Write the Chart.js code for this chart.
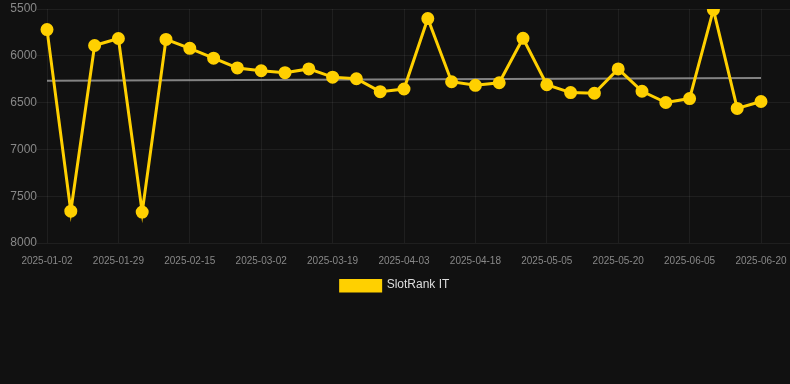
<!DOCTYPE html>
<html>
<head>
<meta charset="utf-8">
<script src="https://cdn.jsdelivr.net/npm/chart.js@4"></script>
<style>
  html, body { margin: 0; padding: 0; background: #111111; }
  #wrap { width: 790px; height: 301px; }
</style>
</head>
<body>
<div id="wrap"><canvas id="myChart"></canvas></div>
<script>
const days = ['2025-01-02', '2025-01-11', '2025-01-20', '2025-01-29', '2025-02-04', '2025-02-10',
    '2025-02-15', '2025-02-20', '2025-02-25', '2025-03-02', '2025-03-08', '2025-03-13',
    '2025-03-19', '2025-03-24', '2025-03-29', '2025-04-03', '2025-04-08', '2025-04-13',
    '2025-04-18', '2025-04-24', '2025-04-29', '2025-05-05', '2025-05-10', '2025-05-15',
    '2025-05-20', '2025-05-25', '2025-05-31', '2025-06-05', '2025-06-10', '2025-06-15',
    '2025-06-20'];
const ranks = [5720, 7660, 5890, 5815, 7670, 5825, 5920, 6025, 6130, 6160, 6180, 6140,
    6228, 6245, 6383, 6355, 5602, 6277, 6315, 6288, 5813, 6309, 6393, 6400,
    6140, 6379, 6499, 6457, 5507, 6562, 6488];
const trend = days.map(() => null);
trend[0] = 6267;
trend[trend.length - 1] = 6238;

const gridColor = 'rgba(255, 255, 255, 0.06)';
const ctx = document.getElementById('myChart').getContext('2d');
Chart.defaults.font.family = 'Arial, "Liberation Sans", sans-serif';

function fixPad(scale) {
    scale.paddingTop = 3;
    scale.paddingBottom = 0;
}

const myChart = new Chart(ctx, {
    type: 'line',
    data: {
        labels: days,
        datasets: [{
            label: 'SlotRank IT',
            data: ranks,
            borderColor: '#FFD000',
            backgroundColor: '#FFD000',
            borderWidth: 3,
            pointRadius: 5,
            pointHoverRadius: 6,
            tension: 0
        }, {
            label: 'trend',
            data: trend,
            spanGaps: true,
            borderColor: 'rgba(160, 160, 160, 0.8)',
            borderWidth: 2,
            pointRadius: 0
        }]
    },
    options: {
        responsive: true,
        maintainAspectRatio: false,
        animation: false,
        layout: { padding: 0 },
        scales: {
            x: {
                offset: false,
                afterFit: (scale) => {
                    scale.paddingLeft = 0;
                    scale.paddingRight = 0;
                    scale.paddingTop = 0;
                },
                grid: { color: gridColor, drawTicks: false },
                border: { display: false },
                ticks: {
                    color: '#888',
                    font: { size: 10 },
                    padding: 12,
                    maxRotation: 0,
                    autoSkip: true,
                    maxTicksLimit: 11
                }
            },
            y: {
                reverse: true,
                min: 5500,
                max: 8000,
                afterFit: (scale) => { scale.width = 47; fixPad(scale); },
                grid: { color: gridColor, tickLength: 10 },
                border: { display: false },
                ticks: {
                    color: '#888',
                    font: { size: 12, lineHeight: 1 },
                    stepSize: 500,
                    padding: 0,
                    callback: (v) => String(v)
                }
            },
            y2: {
                position: 'right',
                reverse: true,
                min: 5500,
                max: 8000,
                afterFit: (scale) => { scale.width = 29; fixPad(scale); },
                grid: { color: gridColor, drawOnChartArea: false, tickLength: 29 },
                border: { display: false },
                ticks: { display: false, stepSize: 500, padding: 0 }
            }
        },
        plugins: {
            legend: {
                position: 'bottom',
                labels: {
                    color: '#ddd',
                    font: { size: 12 },
                    boxWidth: 40,
                    boxHeight: 12,
                    padding: 0,
                    filter: (item) => item.datasetIndex === 0
                }
            },
            tooltip: { enabled: false }
        }
    }
});
</script>
</body>
</html>
